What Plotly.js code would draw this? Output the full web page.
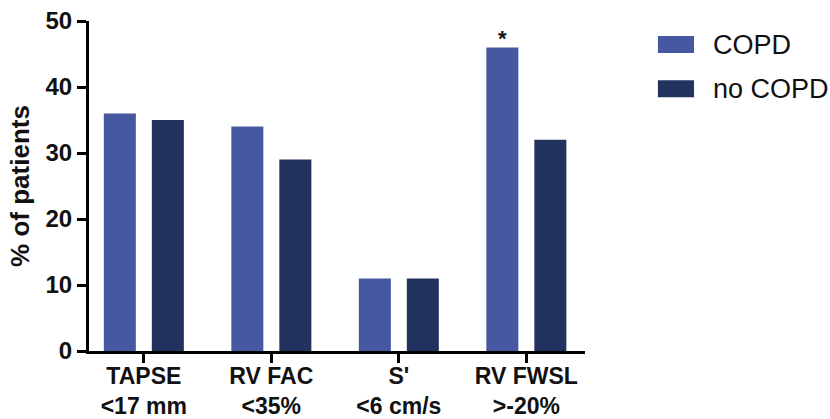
<!DOCTYPE html>
<html>
<head>
<meta charset="utf-8">
<script src="https://cdn.plot.ly/plotly-3.0.1.min.js"></script>
<style>html,body{margin:0;padding:0;background:#fff;}#chart{width:830px;height:419px;}</style>
</head>
<body>
<div id="chart"></div>
<script>
var categories = ["TAPSE", "RV FAC", "S'", "RV FWSL"];
var thresholds = ["<17 mm", "<35%", "<6 cm/s", ">-20%"];
var seriesNames = ["COPD", "no COPD"];
var copdValues = [36, 34, 11, 46];
var noCopdValues = [35, 29, 11, 32];
var yTicks = [0, 10, 20, 30, 40, 50];
var significance = ["", "", "", "*"];

function esc(s) { return s.replace(/&/g, "&amp;").replace(/</g, "&lt;").replace(/>/g, "&gt;"); }
var tickText = categories.map(function (c, i) { return "<b>" + esc(c) + "<br>" + esc(thresholds[i]) + "</b>"; });

var colors = ["#4558A0", "#22325F"];
var FONT = "Liberation Sans, Arial, sans-serif";

var traces = [
  { type: "bar", x: categories, y: copdValues, name: seriesNames[0], marker: { color: colors[0], line: { width: 0 } }, showlegend: false, hoverinfo: "none" },
  { type: "bar", x: categories, y: noCopdValues, name: seriesNames[1], marker: { color: colors[1], line: { width: 0 } }, showlegend: false, hoverinfo: "none" }
];

var annotations = [];
significance.forEach(function (s, i) {
  if (s) {
    annotations.push({ x: categories[i], y: copdValues[i], xref: "x", yref: "y", text: "<b>" + s + "</b>", showarrow: false, xshift: -24, yanchor: "bottom", yshift: -6, font: { family: FONT, size: 22, color: "#111" } });
  }
});

// custom legend (large swatches)
var shapes = [];
var legendRows = [0.9285, 0.795];
seriesNames.forEach(function (n, i) {
  var yc = legendRows[i];
  shapes.push({ type: "rect", xref: "paper", yref: "paper", x0: 1.147, x1: 1.2198, y0: yc - 0.0258, y1: yc + 0.0258, fillcolor: colors[i], line: { width: 0 } });
  annotations.push({ xref: "paper", yref: "paper", x: 1.254, y: yc, xanchor: "left", yanchor: "middle", text: n, showarrow: false, font: { family: FONT, size: 27, color: "#111" } });
});

var layout = {
  width: 830, height: 419,
  margin: { l: 89, r: 245, t: 21, b: 68 },
  paper_bgcolor: "#fff", plot_bgcolor: "#fff",
  barmode: "group", bargap: 0.247, bargroupgap: 0.333,
  font: { family: FONT, color: "#111" },
  xaxis: {
    type: "category", range: [-0.43, 3.46],
    tickvals: categories, ticktext: tickText,
    showline: true, linecolor: "#000", linewidth: 3,
    ticks: "outside", ticklen: 9, tickwidth: 3, tickcolor: "#000",
    ticklabelstandoff: -7,
    showgrid: false, zeroline: false,
    tickfont: { family: FONT, size: 23, color: "#111", weight: "bold" }
  },
  yaxis: {
    range: [0, 50], tickvals: yTicks,
    showline: true, linecolor: "#000", linewidth: 3,
    ticks: "outside", ticklen: 9, tickwidth: 3, tickcolor: "#000",
    showgrid: false, zeroline: false,
    tickfont: { family: FONT, size: 24, color: "#111", weight: "bold" },
    title: { text: "<b>% of patients</b>", font: { family: FONT, size: 26, color: "#111" }, standoff: 9 }
  },
  shapes: shapes,
  annotations: annotations
};

Plotly.newPlot("chart", traces, layout, { staticPlot: true, displayModeBar: false });
</script>
</body>
</html>
